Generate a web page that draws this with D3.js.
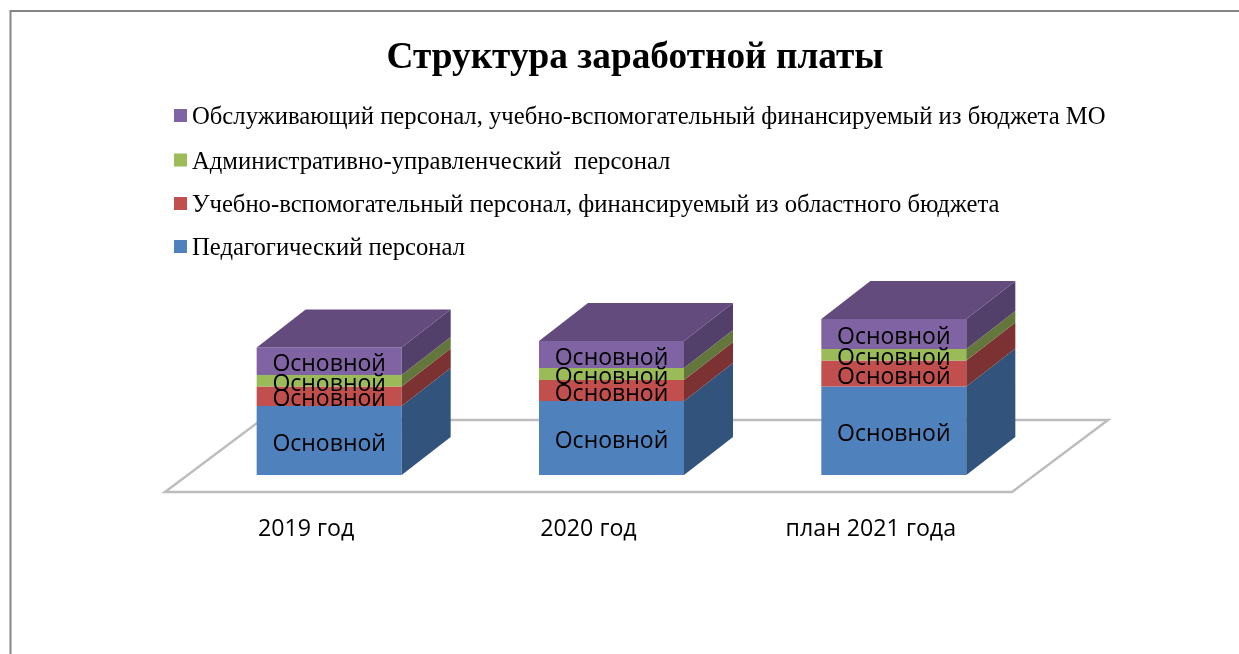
<!DOCTYPE html>
<html><head><meta charset="utf-8">
<script src="https://cdn.jsdelivr.net/npm/d3@7"></script>
<style>html,body{margin:0;padding:0;background:#fff;overflow:hidden}svg{display:block}</style>
</head><body><svg id="c" width="1239" height="654"></svg>
<script>
const titleText = "Структура заработной платы";
const categories = ["2019 год", "2020 год", "план 2021 года"];
const seriesNames = ["Педагогический персонал",
  "Учебно-вспомогательный персонал, финансируемый из областного бюджета",
  "Административно-управленческий  персонал",
  "Обслуживающий персонал, учебно-вспомогательный финансируемый из бюджета МО"];
const pedagogical = [69, 74, 88.5];
const auxiliaryRegional = [19.5, 21, 26];
const administrative = [11.5, 12, 11.5];
const serviceMunicipal = [27.5, 27, 30];
const dataLabel = "Основной";
const frontColors = ["#4F81BD", "#C0504D", "#9BBB59", "#8064A2"];
const sideColors = ["#31537B", "#7B3231", "#64763A", "#533F6B"];
const topColor = "#634C7E";

const svg = d3.select("#c");
const defs = svg.append("defs");
defs.append("filter").attr("id","soft").append("feGaussianBlur").attr("stdDeviation",0.5);
defs.append("filter").attr("id","softText").attr("x","-5%").attr("y","-20%").attr("width","110%").attr("height","140%")
  .append("feGaussianBlur").attr("stdDeviation",0.3);

// frame
svg.append("path").attr("d","M1239,11 H10.5 V654").attr("fill","none").attr("stroke","#868686").attr("stroke-width",2);

svg.append("text").attr("x",635).attr("y",67.5).attr("text-anchor","middle").attr("filter","url(#softText)")
  .attr("font-family","Liberation Serif").attr("font-weight","bold").attr("font-size",37.3).text(titleText);

// legend (reverse order)
const legendRows = [3,2,1,0];
const legendY = d3.scaleOrdinal().domain(legendRows).range([116,160.5,204,247]);
const lg = svg.append("g").attr("filter","url(#softText)").selectAll("g").data(legendRows).join("g");
lg.append("rect").attr("x",174).attr("y",d=>legendY(d)-7).attr("width",13).attr("height",13).attr("fill",d=>frontColors[d]);
lg.append("text").attr("x",192).attr("y",d=>legendY(d)+8).attr("font-family","Liberation Serif").attr("font-size",24.68)
  .attr("xml:space","preserve").style("white-space","pre").text(d=>seriesNames[d]);

// scales
const barShare = 145/282.33;
const x = d3.scaleBand().domain(categories).range([165,1012]).paddingInner(1-barShare).paddingOuter((1-barShare)/2);
const y = d3.scaleLinear().domain([0,100]).range([475,375]);
const depthX = 49, depthY = 38;
const floorDx = 96, floorDy = 72, floorShiftX = 23, floorShiftY = 17;

const g = svg.append("g").attr("filter","url(#soft)");
const x0 = x.range()[0], x1 = x.range()[1], fy = y(0)+floorShiftY;
g.append("polygon").attr("points",[[x0,fy],[x1,fy],[x1+floorDx,fy-floorDy],[x0+floorDx,fy-floorDy]].join(" "))
  .attr("fill","#fff").attr("stroke","#BDBDBD").attr("stroke-width",2.5);

const series = [pedagogical, auxiliaryRegional, administrative, serviceMunicipal];
const labels = svg.append("g").attr("filter","url(#softText)");
categories.forEach((c,i)=>{
  const xl = x(c)+floorShiftX, xr = xl + x.bandwidth();
  let cum = 0;
  series.forEach((s,k)=>{
    const yb = y(cum), yt = y(cum+s[i]);
    g.append("rect").attr("x",xl).attr("y",yt).attr("width",x.bandwidth()).attr("height",yb-yt).attr("fill",frontColors[k]);
    g.append("polygon").attr("points",[[xr,yb],[xr+depthX,yb-depthY],[xr+depthX,yt-depthY],[xr,yt]].join(" ")).attr("fill",sideColors[k]);
    labels.append("text").attr("x",(xl+xr)/2).attr("y",(yb+yt)/2+10).attr("text-anchor","middle")
      .attr("font-family","Open Sans").attr("font-size",23).text(dataLabel);
    cum += s[i];
  });
  const yt = y(cum);
  g.append("polygon").attr("points",[[xl,yt],[xr,yt],[xr+depthX,yt-depthY],[xl+depthX,yt-depthY]].join(" ")).attr("fill",topColor);
  labels.append("text").attr("x",(xl+xr)/2-23).attr("y",536).attr("text-anchor","middle")
    .attr("font-family","Open Sans").attr("font-size",23.2).text(c);
});
</script></body></html>
